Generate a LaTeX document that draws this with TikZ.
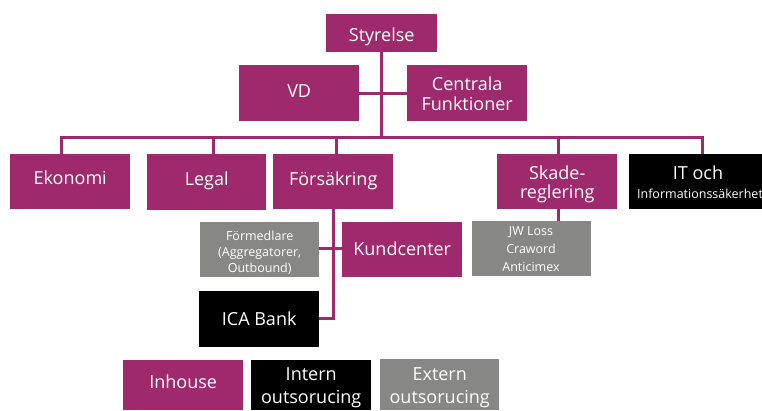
\documentclass[tikz,border=0pt]{standalone}
\usepackage{fontspec}
\setmainfont{Open Sans}
\definecolor{mag}{RGB}{158,41,108}
\definecolor{gry}{RGB}{135,135,134}
\begin{document}
\begin{tikzpicture}[x=1pt,y=-1pt,
  box/.style={minimum width=120pt,minimum height=56pt,inner sep=0pt,anchor=north west},
  mbox/.style={box,fill=mag},
  kbox/.style={box,fill=black},
  gbox/.style={box,fill=gry},
  txt/.style={text=white,align=center,anchor=base,inner sep=0pt,font=\fontsize{18}{20}\selectfont},
  small/.style={txt,font=\fontsize{12.5}{17.5}\selectfont},
  conn/.style={draw=mag,line width=3pt}]
\useasboundingbox (0,0) rectangle (762,410);
\clip (0,0) rectangle (762,410);
% top
\node[mbox,minimum width=111pt,minimum height=38pt] (sty) at (326,14) {};
\node[txt] (styt) at (sty.center |- 0,41) {Styrelse};
\node[mbox] (vd) at (239,65) {};
\node[txt] (vdt) at (vd.center |- 0,97) {VD};
\node[mbox] (cf) at (407,65) {};
\node[txt] (cft) at (cf.center |- 0,110) {Centrala\\Funktioner};
% second row
\node[mbox,minimum height=55pt] (eko) at (10,154) {};
\node[txt] (ekot) at (eko.center |- 0,184) {Ekonomi};
\node[mbox,minimum width=119pt] (leg) at (147,154) {};
\node[txt] (legt) at (leg.center |- 0,185) {Legal};
\node[mbox,minimum height=55pt] (fors) at (273,154) {};
\node[txt] (forst) at (fors.center |- 0,185) {Försäkring};
\node[mbox,minimum height=55pt] (skade) at (497,154) {};
\node[txt,font=\fontsize{18}{19}\selectfont] (skadet) at (skade.center |- 0,198) {Skade-\\reglering};
\node[kbox,minimum width=133pt,minimum height=55pt] (it) at (629,154) {};
\node[txt] (itt) at (698,179) {IT och};
\node[txt,font=\fontsize{12.5}{14}\selectfont] (itt2) at (700,198) {Informationssäkerhet};
% third row
\node[gbox,minimum width=119pt,minimum height=55pt] (jw) at (472,221) {};
\node[small,font=\fontsize{12.5}{18}\selectfont] (jwt) at (531,271) {JW Loss\\Craword\\Anticimex};
\node[gbox,minimum width=119pt,minimum height=55pt] (form) at (200,222) {};
\node[small,font=\fontsize{12.5}{16}\selectfont] (formt) at (form.center |- 0,272) {Förmedlare\\(Aggregatorer,\\Outbound)};
\node[mbox,minimum width=120pt,minimum height=55pt] (kund) at (342,222) {};
\node[txt] (kundt) at (kund.center |- 0,255) {Kundcenter};
\node[kbox,minimum width=120pt] (ica) at (199,291) {};
\node[txt] (icat) at (ica.center |- 0,325) {ICA Bank};
% legend
\node[mbox,minimum height=50pt] (inh) at (123,360) {};
\node[txt] (inht) at (inh.center |- 0,388) {Inhouse};
\node[kbox,minimum height=50pt] (int) at (251,360) {};
\node[txt,font=\fontsize{18}{22.6}\selectfont] (intt) at (int.center |- 0,403) {Intern\\outsorucing};
\node[gbox,minimum width=119pt,minimum height=51pt] (ext) at (380,359) {};
\node[txt,font=\fontsize{18}{22.6}\selectfont] (extt) at (ext.center |- 0,403) {Extern\\outsorucing};
% connectors
\coordinate (b1) at (381,137);
\coordinate (bl) at (61,137);
\coordinate (br) at (702,137);
\draw[conn] (sty.south -| b1) -- (b1);
\draw[conn] (vd.east |- 0,93) -- (cf.west |- 0,93);
\draw[conn,line join=miter] (eko.north -| bl) -- (bl) -- (br) -- (it.north -| br);
\draw[conn] (213,137) -- (leg.north -| 213,0);
\draw[conn] (336,137) -- (fors.north -| 336,0);
\draw[conn] (558,137) -- (skade.north -| 558,0);
\draw[conn] (skade.south -| 558,0) -- (jw.north -| 558,0);
\coordinate (fv) at (333,318);
\draw[conn,line join=miter] (fors.south -| fv) -- (fv) -- (ica.east |- fv);
\draw[conn] (form.east |- 0,248) -- (kund.west |- 0,248);
\end{tikzpicture}
\end{document}
